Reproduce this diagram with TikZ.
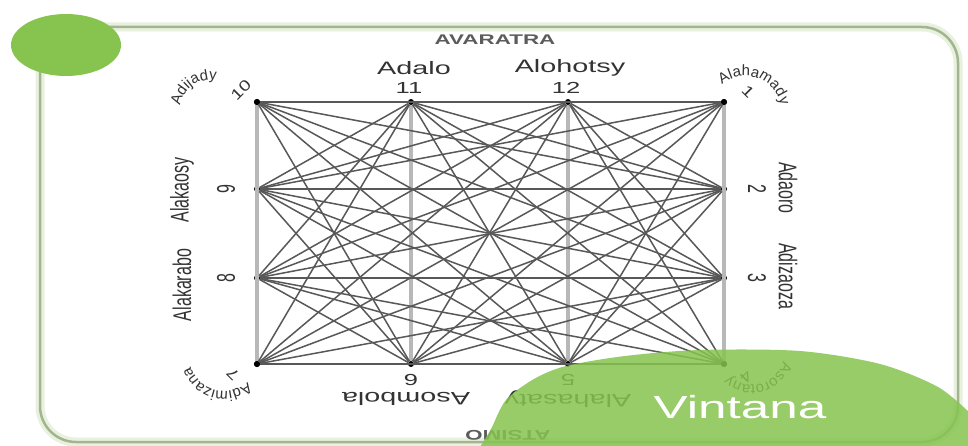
\documentclass[tikz,border=0pt]{standalone}
\usepackage{fontspec}
\usepackage{graphicx}
\setmainfont{Liberation Sans}
\newfontfamily\widefont[FakeStretch=1.6]{Liberation Sans}
\newfontfamily\midfont[FakeStretch=1.3]{Liberation Sans}
\usetikzlibrary{decorations.text}
\definecolor{framegreen}{HTML}{A2B590}
\definecolor{framehalo}{HTML}{E8F0DE}
\definecolor{blobgreen}{HTML}{86C44F}
\definecolor{linkgray}{HTML}{585858}
\definecolor{runggray}{HTML}{B8B8B8}
\definecolor{textgray}{HTML}{333333}
\newcommand{\tall}[1]{\scalebox{1}[1.6]{#1}}
\newcommand{\cornerfont}{\fontsize{15}{15}\selectfont}
\tikzstyle{spot} = [circle, fill=black, inner sep=0pt, minimum size=6pt]
\tikzstyle{link} = [color=linkgray, line width=1.5pt]
\tikzstyle{rung} = [color=runggray, line width=4pt]
\tikzstyle{monthname} = [inner sep=0pt, text=textgray, font=\widefont\fontsize{18}{18}\selectfont]
\tikzstyle{monthnum} = [inner sep=0pt, text=textgray, font=\widefont\fontsize{16}{16}\selectfont]
\tikzstyle{sidename} = [inner sep=0pt, text=textgray, font=\fontsize{16}{16}\selectfont]
\tikzstyle{cornernum} = [inner sep=0pt, text=textgray, font=\midfont\fontsize{15}{15}\selectfont]
\tikzstyle{curved} = [decorate, decoration={text along path, text align=center, text color=textgray}]

\begin{document}
\begin{tikzpicture}[x=1pt, y=1pt]
\useasboundingbox (0,0) rectangle (968,445);
\fill[white] (0,0) rectangle (968,445);
% frame and corner blob
\draw[framehalo, line width=9pt, rounded corners=36pt] (40,3) rectangle (958,418);
\draw[framegreen, line width=2.5pt, rounded corners=36pt] (40,3) rectangle (958,418);
\fill[blobgreen] (66,400) ellipse [x radius=55, y radius=31];
\node[font=\widefont\bfseries\fontsize{14}{14}\selectfont, text=textgray!80] (north) at (495,405) {AVARATRA};

% the twelve months
\node[spot] (n10) at (257,343) {};
\node[spot] (n11) at (411,343) {};
\node[spot] (n12) at (568,343) {};
\node[spot] (n1) at (724,343) {};
\node[spot] (n2) at (724,256) {};
\node[spot] (n3) at (724,167) {};
\node[spot] (n4) at (724,81) {};
\node[spot] (n5) at (568,81) {};
\node[spot] (n6) at (411,81) {};
\node[spot] (n7) at (257,81) {};
\node[spot] (n8) at (257,167) {};
\node[spot] (n9) at (257,256) {};

% vertical links
\path[rung] (n10) edge (n9) edge (n8) edge (n7);
\path[rung] (n9) edge (n8) edge (n7);
\path[rung] (n8) edge (n7);
\path[rung] (n1) edge (n2) edge (n3) edge (n4);
\path[rung] (n2) edge (n3) edge (n4);
\path[rung] (n3) edge (n4);
\path[rung] (n11) edge (n6);
\path[rung] (n12) edge (n5);
% all other links
\path[link] (n1) edge (n5) edge (n6) edge (n7) edge (n8) edge (n9) edge (n10) edge (n11) edge (n12);
\path[link] (n2) edge (n5) edge (n6) edge (n7) edge (n8) edge (n9) edge (n10) edge (n11) edge (n12);
\path[link] (n3) edge (n5) edge (n6) edge (n7) edge (n8) edge (n9) edge (n10) edge (n11) edge (n12);
\path[link] (n4) edge (n5) edge (n6) edge (n7) edge (n8) edge (n9) edge (n10) edge (n11) edge (n12);
\path[link] (n5) edge (n6) edge (n7) edge (n8) edge (n9) edge (n10) edge (n11);
\path[link] (n6) edge (n7) edge (n8) edge (n9) edge (n10) edge (n12);
\path[link] (n7) edge (n11) edge (n12);
\path[link] (n8) edge (n11) edge (n12);
\path[link] (n9) edge (n11) edge (n12);
\path[link] (n10) edge (n11) edge (n12);
\path[link] (n11) edge (n12);
\node[spot] at (n1) {};
\node[spot] at (n4) {};
\node[spot] at (n7) {};
\node[spot] at (n10) {};

% top
\node[monthnum] (num11) at (409,357) {11};
\node[monthname] (name11) at (414,377) {Adalo};
\node[monthnum] (num12) at (566,357) {12};
\node[monthname] (name12) at (570,377) {Alohotsy};
% right
\node[sidename, rotate=-90] (num2) at (757,256) {\tall{2}};
\node[sidename, rotate=-90] (name2) at (788,257) {\tall{Adaoro}};
\node[sidename, rotate=-90] (num3) at (757,167) {\tall{3}};
\node[sidename, rotate=-90] (name3) at (788,169) {\tall{Adizaoza}};
% bottom
\node[monthnum, rotate=180] (num6) at (411,65) {6};
\node[monthname, rotate=180] (name6) at (406,46) {Asombola};
\node[monthnum, rotate=180] (num5) at (568,65) {5};
\node[monthname, rotate=180] (name5) at (568,46) {Alahasaty};
% left
\node[sidename, rotate=90] (num9) at (226,256) {\tall{9}};
\node[sidename, rotate=90] (name9) at (182,255) {\tall{Alakaosy}};
\node[sidename, rotate=90] (num8) at (226,167) {\tall{8}};
\node[sidename, rotate=90] (name8) at (182,160) {\tall{Alakarabo}};
% corners
\node[cornernum, rotate=45] (num10) at (241,355) {10};
\path[curved, decoration={text={|\cornerfont|Adijady}}] (210,335) ++(200:30) arc[start angle=200, end angle=50, radius=30];
\node[cornernum, rotate=-45] (num1) at (748,353) {1};
\path[curved, decoration={text={|\cornerfont|Alahamady}}] (745,333) ++(160:36) arc[start angle=160, end angle=-20, radius=36];
\node[cornernum, rotate=135] (num7) at (233,71) {7};
\path[curved, decoration={text={|\cornerfont|Adimizana}}] (224,89) ++(-15:35) arc[start angle=-15, end angle=-195, radius=35];
\node[cornernum, rotate=-135] (num4) at (746,68) {4};
\path[curved, decoration={text={|\cornerfont|Asorotany}}] (752,92) ++(15:32) arc[start angle=15, end angle=-165, radius=32];

% south and the big blob
\node[font=\widefont\bfseries\fontsize{14}{14}\selectfont, text=textgray!80, rotate=180] (south) at (508,10) {ATSIMO};
\fill[blobgreen, fill opacity=0.85] plot[smooth] coordinates {(480,-2) (491,16) (506,45) (534,66) (566,79) (625,89) (700,95) (800,94) (880,81) (938,58) (972,30)} -- (972,-2) -- cycle;
\node[font=\widefont\fontsize{32}{32}\selectfont, text=white] (title) at (740,38) {Vintana};
\end{tikzpicture}
\end{document}
